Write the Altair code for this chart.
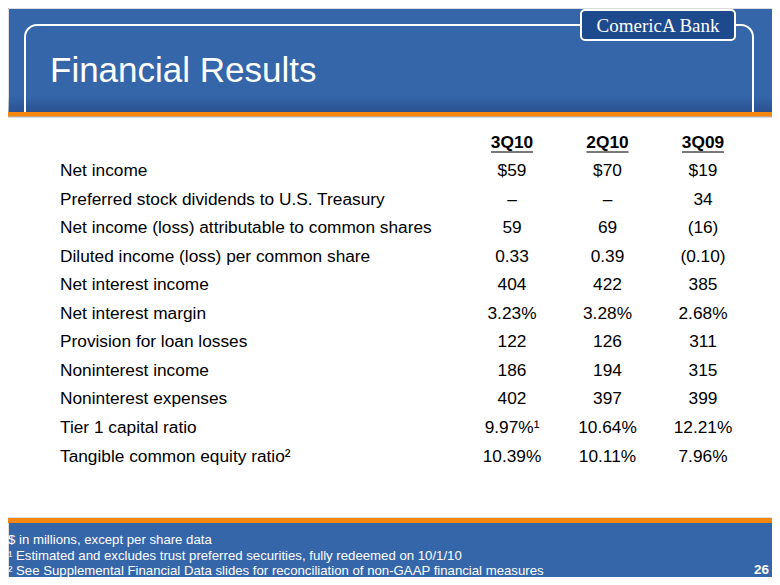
import altair as alt
import pandas as pd

title = "Financial Results"
brand = "ComericA Bank"
columns = ["3Q10", "2Q10", "3Q09"]
rows = [
    "Net income",
    "Preferred stock dividends to U.S. Treasury",
    "Net income (loss) attributable to common shares",
    "Diluted income (loss) per common share",
    "Net interest income",
    "Net interest margin",
    "Provision for loan losses",
    "Noninterest income",
    "Noninterest expenses",
    "Tier 1 capital ratio",
    "Tangible common equity ratio²",
]
q3_10 = ["$59", "–", "59", "0.33", "404", "3.23%", "122", "186", "402", "9.97%¹", "10.39%"]
q2_10 = ["$70", "–", "69", "0.39", "422", "3.28%", "126", "194", "397", "10.64%", "10.11%"]
q3_09 = ["$19", "34", "(16)", "(0.10)", "385", "2.68%", "311", "315", "399", "12.21%", "7.96%"]
footnotes = [
    "$ in millions, except per share data",
    "¹ Estimated and excludes trust preferred securities, fully redeemed on 10/1/10",
    "² See Supplemental Financial Data slides for reconciliation of non-GAAP financial measures",
]
page = "26"

HEADER = "header"
series = {"3Q10": q3_10, "2Q10": q2_10, "3Q09": q3_09}
cells = pd.DataFrame(
    [{"row": r, "col": c, "value": series[c][i]} for c in columns for i, r in enumerate(rows)]
)
heads = pd.DataFrame([{"row": HEADER, "col": c, "value": c} for c in columns])
labels = pd.DataFrame({"row": rows, "label": rows})

FONT = "Liberation Sans"
BLUE = "#3566aa"
ORANGE = "#f5870f"
W, H = 764, 569

xs = alt.Scale(type="point", domain=columns, range=[504, 695], padding=0)
ys = alt.Scale(type="point", domain=[HEADER] + rows, range=[134.5, 448.5], padding=0)
X = alt.X("col:N", scale=xs, axis=None)
Y = alt.Y("row:N", scale=ys, axis=None)

one = alt.Chart(pd.DataFrame({"k": [0]}))

shadow = one.mark_rect(
    color=alt.LinearGradient(
        gradient="linear",
        stops=[alt.GradientStop(color="rgba(20,40,90,0)", offset=0),
               alt.GradientStop(color="rgba(20,40,90,0.35)", offset=1)],
        x1=0, x2=0, y1=0, y2=1,
    )
).encode(x=alt.value(0), x2=alt.value(W), y=alt.value(88), y2=alt.value(105))

outline = one.mark_rect(
    fillOpacity=0, stroke="white", strokeWidth=2, cornerRadius=12
).encode(x=alt.value(17), x2=alt.value(745), y=alt.value(17), y2=alt.value(140))

logo_box = one.mark_rect(
    fill="#1d4a8c", stroke="white", strokeWidth=2, cornerRadius=4
).encode(x=alt.value(573), x2=alt.value(727), y=alt.value(2), y2=alt.value(32))

logo_text = one.mark_text(
    font="Liberation Serif", fontSize=19, color="white", align="center", baseline="alphabetic"
).encode(x=alt.value(650), y=alt.value(24), text=alt.value(brand))

title_text = one.mark_text(
    font=FONT, fontSize=35, color="white", align="left", baseline="alphabetic"
).encode(x=alt.value(42), y=alt.value(74), text=alt.value(title))

orange_top = one.mark_rect(color=ORANGE).encode(
    x=alt.value(-1), x2=alt.value(W + 1), y=alt.value(104), y2=alt.value(109))

panel = one.mark_rect(fill="white", stroke="#a9bddf", strokeWidth=1).encode(
    x=alt.value(-1), x2=alt.value(W + 2), y=alt.value(109), y2=alt.value(510))

orange_bot = one.mark_rect(color=ORANGE).encode(
    x=alt.value(-1), x2=alt.value(W + 1), y=alt.value(510), y2=alt.value(515))

head_text = alt.Chart(heads).mark_text(
    font=FONT, fontSize=17.3, fontWeight="bold", color="#000", align="center", baseline="middle"
).encode(x=X, y=Y, text="value:N")

head_line = alt.Chart(heads).mark_tick(
    orient="horizontal", size=42, thickness=1.5, color="#000", yOffset=9.5
).encode(x=X, y=Y)

label_text = alt.Chart(labels).mark_text(
    font=FONT, fontSize=17.3, color="#000", align="left", baseline="middle"
).encode(x=alt.value(52), y=Y, text="label:N")

value_text = alt.Chart(cells).mark_text(
    font=FONT, fontSize=17.3, color="#000", align="center", baseline="middle"
).encode(x=X, y=Y, text="value:N")

foot_text = one.mark_text(
    font=FONT, fontSize=13.2, color="white", align="left", baseline="alphabetic", lineHeight=15.5
).encode(x=alt.value(0), y=alt.value(536), text=alt.value(footnotes))

page_text = one.mark_text(
    font=FONT, fontSize=13.5, fontWeight="bold", color="white", align="right", baseline="alphabetic"
).encode(x=alt.value(761), y=alt.value(566), text=alt.value(page))

chart = alt.layer(
    shadow, outline, logo_box, logo_text, title_text, orange_top, panel, orange_bot,
    head_text, head_line, label_text, value_text, foot_text, page_text,
).properties(
    width=W, height=H, padding=0,
    autosize=alt.AutoSizeParams(type="none"),
).configure_view(stroke=None).configure(background=BLUE)

chart.save("out.html", embed_options={"renderer": "svg", "actions": False})
